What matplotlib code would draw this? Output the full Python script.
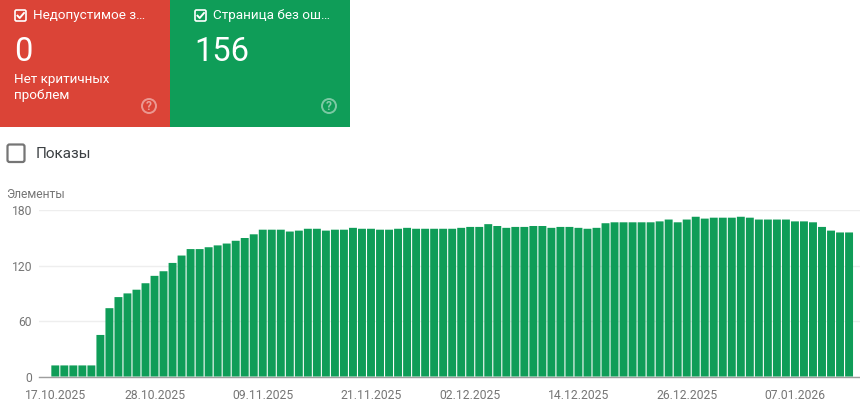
import matplotlib
matplotlib.use("Agg")
import matplotlib.pyplot as plt
from matplotlib.patches import Rectangle, FancyBboxPatch, Circle

plt.rcParams['font.family'] = ['Roboto', 'DejaVu Sans']

values = [12, 12, 12, 12, 12, 45, 74, 86, 90, 94, 101, 109, 114, 123, 131, 138, 138, 140, 142, 144,
          147, 150, 154, 159, 159, 159, 157, 158, 160, 160, 158, 159, 159, 161, 160, 160, 159, 159, 160, 161,
          160, 160, 160, 160, 160, 161, 162, 162, 165, 163, 161, 162, 162, 163, 163, 161, 162, 162, 161, 160,
          161, 166, 167, 167, 167, 167, 167, 168, 170, 167, 170, 173, 171, 172, 172, 172, 173, 172, 170, 170,
          170, 170, 168, 168, 167, 162, 158, 156, 156]
tick_days = [0, 11, 23, 35, 46, 58, 70, 82]
tick_labels = ['17.10.2025', '28.10.2025', '09.11.2025', '21.11.2025',
               '02.12.2025', '14.12.2025', '26.12.2025', '07.01.2026']
y_ticks = [0, 60, 120, 180]

RED = '#DB4437'
GREEN = '#0F9D58'
W, H = 860, 408
fig = plt.figure(figsize=(W / 100, H / 100), dpi=100, facecolor='white')

# chart axes: left 39 px to right edge, y=0 at 376.5 px, y=180 at 210.3 px
ax = fig.add_axes([39 / W, 1 - 376.5 / H, 821 / W, (376.5 - 210.3) / H])
bars = ax.bar(range(len(values)), values, width=0.88, color=GREEN, zorder=3)
for b in bars:
    b.set_snap(False)
ax.set_xlim((39 - 55.3) / 9.02, (860 - 55.3) / 9.02)
ax.set_ylim(0, 180)
ax.set_yticks(y_ticks)
ax.set_yticklabels([str(v) for v in y_ticks])
ax.set_xticks(tick_days)
ax.set_xticklabels(tick_labels)
ax.tick_params(axis='both', length=0, labelsize=8.7, labelcolor='#757575')
ax.tick_params(axis='x', pad=9)
ax.tick_params(axis='y', pad=5)
ax.grid(axis='y', color='#EEEEEE', lw=1, zorder=0)
ax.grid(axis='x', visible=False)
for s in ('top', 'left', 'right'):
    ax.spines[s].set_visible(False)
ax.spines['bottom'].set_color('#9E9E9E')
ax.spines['bottom'].set_linewidth(1)

# overlay in pixel coordinates for the cards above the chart
ov = fig.add_axes([0, 0, 1, 1], facecolor='none')
ov.set_xlim(0, W)
ov.set_ylim(H, 0)
ov.axis('off')


def card(x0, x1, color, title, number):
    ov.add_patch(Rectangle((x0, 0), x1 - x0, 127, color=color, lw=0))
    cx = 0 if x0 == 0 else 180
    ov.add_patch(FancyBboxPatch((cx + 15, 10), 11, 11, boxstyle='round,pad=0,rounding_size=1.5',
                                fc='none', ec='white', lw=1.2))
    ov.plot([cx + 17.5, cx + 19.7, cx + 24], [15.7, 18, 13], color='white', lw=1.4)
    ov.text(cx + 33, 15, title, color='white', fontsize=9.7, va='center', ha='left')
    ov.text(cx + 14, 52, number, color='white', fontsize=23.5, va='center', ha='left')
    ov.add_patch(Circle((cx + 149, 106), 7, fc='none', ec=(1, 1, 1, 0.45), lw=1.4))
    ov.text(cx + 149, 106, '?', color=(1, 1, 1, 0.5), fontsize=8.5, fontweight='bold', va='center', ha='center')


card(0, 170, RED, 'Недопустимое з…', '0')
card(170, 350, GREEN, 'Страница без ош…', '156')
ov.text(14, 87, 'Нет критичных\nпроблем', color='white', fontsize=9.7, va='center', ha='left', linespacing=1.3)

ov.add_patch(FancyBboxPatch((7.5, 144.5), 17, 17.5, boxstyle='round,pad=0,rounding_size=2',
                            fc='white', ec='#757575', lw=1.6))
ov.text(36, 153.5, 'Показы', color='#3C4043', fontsize=11, va='center', ha='left')
ov.text(6, 194, 'Элементы', color='#757575', fontsize=8.7, va='center', ha='left')

fig.savefig('out.png', dpi=100)
